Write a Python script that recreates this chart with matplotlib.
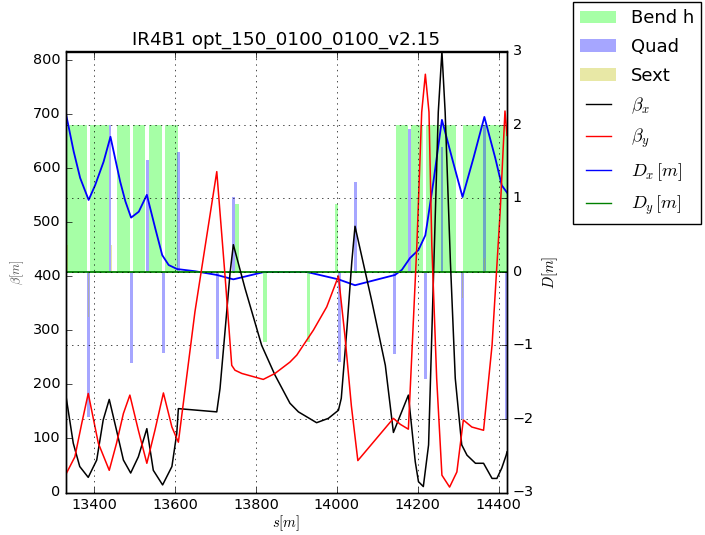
import matplotlib
matplotlib.use("Agg")
import matplotlib.pyplot as plt
from matplotlib.patches import Patch
from matplotlib.lines import Line2D

plt.style.use('classic')
plt.rcParams['font.size'] = 10.4

title = "IR4B1 opt_150_0100_0100_v2.15"

# beta_x
bx_s = [13330, 13348, 13364, 13385, 13406, 13422, 13437, 13455, 13472, 13490, 13509, 13530,
        13546, 13569, 13592, 13604, 13608, 13703, 13711, 13724, 13736, 13744, 13773, 13814,
        13847, 13884, 13905, 13950, 13979, 14004, 14011, 14025, 14037, 14045, 14087, 14120,
        14140, 14177, 14194, 14202, 14214, 14227, 14239, 14251, 14260, 14268, 14281, 14293,
        14309, 14322, 14343, 14363, 14384, 14396, 14408, 14419, 14421]
bx = [178, 91, 48, 28, 60, 134, 172, 115, 60, 36, 66, 118,
      41, 14, 48, 109, 155, 149, 192, 303, 407, 458, 377, 272,
      217, 165, 149, 129, 137, 152, 174, 303, 426, 492, 352, 235,
      111, 180, 57, 20, 11, 88, 395, 703, 815, 703, 426, 211,
      88, 69, 54, 54, 26, 26, 45, 69, 75]

# beta_y
by_s = [13330, 13352, 13369, 13385, 13410, 13437, 13455, 13472, 13488, 13509, 13530, 13550,
        13571, 13592, 13608, 13649, 13703, 13724, 13740, 13748, 13765, 13818, 13847, 13884,
        13901, 13942, 13975, 14004, 14020, 14036, 14052, 14140, 14157, 14177, 14198, 14210,
        14219, 14228, 14235, 14247, 14260, 14279, 14297, 14313, 14334, 14363, 14384, 14404,
        14416, 14421]
by = [34, 66, 128, 183, 91, 41, 91, 146, 180, 115, 54, 115,
      184, 121, 93, 334, 593, 395, 235, 226, 220, 209, 220, 241,
      254, 300, 343, 400, 290, 160, 59, 137, 126, 117, 457, 703,
      773, 703, 457, 211, 32, 10, 38, 134, 121, 115, 272, 518,
      705, 660]

# D_x
dx_s = [13330, 13349, 13365, 13386, 13402, 13423, 13440, 13464, 13477, 13491, 13510, 13530,
        13551, 13568, 13584, 13605, 13650, 13703, 13744, 13820, 13926, 14004, 14045, 14144,
        14161, 14181, 14202, 14219, 14223, 14239, 14260, 14285, 14311, 14338, 14365, 14392,
        14408, 14421]
dx = [2.15, 1.64, 1.28, 0.98, 1.18, 1.5, 1.84, 1.23, 0.96, 0.74, 0.82, 1.05,
      0.59, 0.23, 0.095, 0.04, 0.01, -0.04, -0.10, 0.0, 0.0, -0.10, -0.18, -0.04,
      0.03, 0.19, 0.30, 0.50, 0.64, 1.23, 2.07, 1.55, 1.02, 1.55, 2.11, 1.55,
      1.18, 1.08]

# D_y
dy_s = [13330, 14421]
dy = [0.0, 0.0]

# bends: start, end, height
bend_start = [13300, 13390, 13456, 13496, 13536, 13576, 13748, 13817, 13926, 13996,
              14146, 14183, 14221, 14313]
bend_end = [13382, 13436, 13488, 13526, 13568, 13606, 13758, 13828, 13934, 14004,
            14177, 14214, 14295, 14450]
bend_h = [2.0, 2.0, 2.0, 2.0, 2.0, 2.0, 0.93, -0.95, -0.95, 0.93,
          2.0, 2.0, 2.0, 2.0]

# quads: centre, height
quad_s = [13386, 13439, 13492, 13531, 13571, 13609, 13705, 13744, 14006, 14046,
          14143, 14180, 14219, 14260, 14310, 14365, 14420]
quad_h = [-1.97, 2.0, -1.24, 1.52, -1.1, 1.63, -1.18, 1.02, -1.22, 1.23,
          -1.11, 1.95, -1.45, 1.70, -2.0, 2.0, -2.0]

# sextupoles: centre, height
sext_s = [13333, 13386, 13443, 14310, 14366]
sext_h = [0.37, -0.61, 0.37, -0.36, 0.19]

fig = plt.figure(figsize=(7.05, 5.35), dpi=100)
ax1 = fig.add_axes([66/705, 42.5/535, 441/705, 441/535])
ax2 = ax1.twinx()
ax1.set_zorder(ax2.get_zorder() + 1)
ax1.patch.set_visible(False)

bw = [e - s for s, e in zip(bend_start, bend_end)]
ax2.bar(bend_start, bend_h, width=bw, align='edge', color='lime', alpha=0.35,
        edgecolor='none', linewidth=0)
ax2.bar(quad_s, quad_h, width=7, color='blue', alpha=0.35, edgecolor='none', linewidth=0)
ax2.bar(sext_s, sext_h, width=3, color='y', alpha=0.35, edgecolor='none', linewidth=0)

ax1.plot(bx_s, bx, color='k', lw=1.1)
ax1.plot(by_s, by, color='r', lw=1.1)
ax2.plot(dx_s, dx, color='b', lw=1.3)
ax2.plot(dy_s, dy, color='g', lw=1.3)

ax1.set_xlim(13330, 14421)
ax1.set_ylim(0, 815)
ax2.set_ylim(-3, 3)
ax1.set_xticks([13400, 13600, 13800, 14000, 14200, 14400])
ax1.set_yticks(range(0, 801, 100))
ax2.set_yticks([-3, -2, -1, 0, 1, 2, 3])
ax2.grid(True)
ax1.xaxis.grid(True)

ax1.set_title(title, fontsize=13.2)
ax1.set_xlabel(r'$s [m]$', fontsize=10.5, labelpad=1)
ax1.set_ylabel(r'$\beta [m]$', fontsize=9, color='#555555')
ax2.set_ylabel(r'$D [m]$', fontsize=10.5)

handles = [Patch(facecolor='lime', alpha=0.35, edgecolor='none'),
           Patch(facecolor='blue', alpha=0.35, edgecolor='none'),
           Patch(facecolor='y', alpha=0.35, edgecolor='none'),
           Line2D([], [], color='k'), Line2D([], [], color='r'),
           Line2D([], [], color='b'), Line2D([], [], color='g')]
labels = ['Bend h', 'Quad', 'Sext', r'$\beta_x$', r'$\beta_y$', r'$D_x\,[m]$', r'$D_y\,[m]$']
fig.legend(handles, labels, loc='upper left', bbox_to_anchor=(573/705, 1 - 2/535),
           borderaxespad=0, fontsize=13, labelspacing=0.6)

fig.savefig('out.png', dpi=100)
